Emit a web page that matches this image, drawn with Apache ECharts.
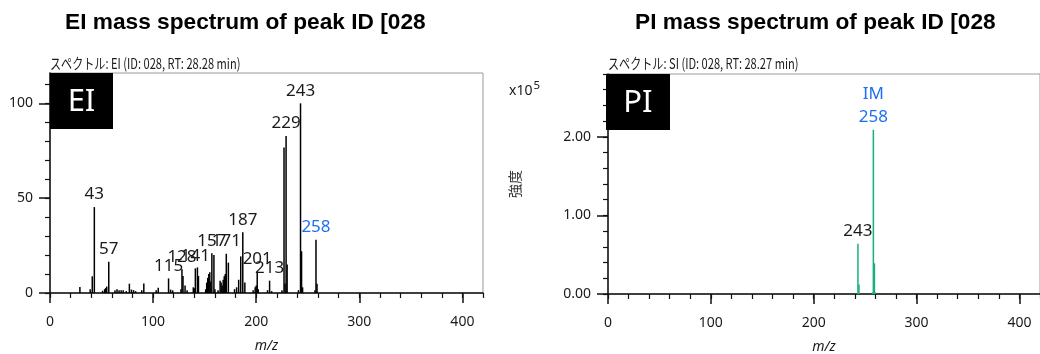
<!DOCTYPE html>
<html>
<head>
<meta charset="utf-8">
<script src="https://cdn.jsdelivr.net/npm/echarts@6.0.0/dist/echarts.min.js"></script>
<style>
  html, body { margin: 0; padding: 0; background: #fff; }
  #chart { width: 1040px; height: 354px; }
</style>
</head>
<body>
<div id="chart"></div>
<script>
// ---------------- DATA ----------------
// EI spectrum: m/z and relative intensity (%)
const EI_MZ  = [29, 39, 41, 43, 51, 53, 54, 55, 57, 63, 65, 67, 69, 71, 74, 77, 79, 81, 83, 89, 91,
                103, 105, 115, 117, 119, 127, 128, 129, 131, 133, 139, 140, 141, 143, 144,
                151, 152, 153, 154, 155, 156, 157, 159, 160, 163, 165, 166, 167, 168, 169, 170, 171, 173,
                179, 181, 183, 185, 187, 189, 197, 199, 200, 201, 202, 211, 213, 215,
                225, 227, 228, 229, 230, 241, 243, 244, 245, 257, 258, 259];
const EI_INT = [3.2, 2.0, 8.8, 45.3, 1.2, 2.0, 2.6, 3.4, 16.5, 1.5, 2.0, 1.5, 1.5, 1.5, 1.0, 4.9, 1.8, 1.5, 1.0, 1.5, 5.0,
                1.5, 2.8, 7.7, 1.8, 1.4, 2.0, 12.5, 9.0, 4.0, 1.5, 3.0, 2.5, 13.0, 13.5, 9.0,
                2.0, 5.5, 8.0, 10.0, 11.0, 6.0, 21.0, 20.0, 2.0, 1.5, 6.5, 5.5, 4.0, 7.0, 8.8, 10.0, 20.7, 16.0,
                2.0, 3.0, 7.0, 19.3, 32.0, 5.5, 1.5, 3.0, 4.0, 11.0, 2.0, 1.5, 6.5, 1.0,
                1.5, 76.7, 5.0, 82.8, 15.0, 1.5, 100.0, 22.0, 3.0, 1.5, 28.1, 4.9];
const EI_LABELS = [43, 57, 115, 128, 141, 157, 171, 187, 201, 213, 229, 243, 258];
const EI_BLUE   = [258];

// PI spectrum: m/z and intensity (x10^5)
const PI_MZ  = [243, 244, 257, 258, 259, 260];
const PI_INT = [0.64, 0.12, 0.02, 2.09, 0.39, 0.02];
const PI_LABELS = [243, 258];
const PI_BLUE   = [258];
const PI_BLUE_PREFIX = 'IM';

// Axis ticks / labels
const X_MAJOR = [0, 100, 200, 300, 400];
const X_MINOR = [0, 20, 40, 60, 80, 100, 120, 140, 160, 180, 200, 220, 240, 260, 280, 300, 320, 340, 360, 380, 400, 420];
const EI_Y_MAJOR = [0, 50, 100];
const EI_Y_MINOR = [0, 10, 20, 30, 40, 50, 60, 70, 80, 90, 100, 110];
const PI_Y_MAJOR = [0, 1, 2];
const PI_Y_MINOR = [0, 0.2, 0.4, 0.6, 0.8, 1.0, 1.2, 1.4, 1.6, 1.8, 2.0, 2.2, 2.4, 2.6, 2.8];

const TITLE_EI = 'EI mass spectrum of peak ID [028';
const TITLE_PI = 'PI mass spectrum of peak ID [028';
const SUB_EI = 'スペクトル: EI (ID: 028, RT: 28.28 min)';
const SUB_PI = 'スペクトル: SI (ID: 028, RT: 28.27 min)';
const X_NAME = 'm/z';
const Y_NAME_PI = '強度';
const SCALE_BASE = 'x10';
const SCALE_EXP = '5';

// ---------------- STYLE ----------------
const FONT = "'Noto Sans', 'Noto Sans CJK JP', sans-serif";
const BLUE = '#1f6ff2';
const GREEN = '#14b07c';
const INK = '#1a1a1a';

function makeSeriesData(mz, vals, labels, blue, blueFmt) {
  return mz.map((m, i) => {
    const item = { value: [m, vals[i]] };
    if (labels.indexOf(m) >= 0) {
      const isBlue = blue.indexOf(m) >= 0;
      item.label = {
        show: true,
        position: 'top',
        distance: 1,
        color: isBlue ? BLUE : INK,
        fontSize: 17,
        fontFamily: FONT,
        lineHeight: 23,
        formatter: isBlue && blueFmt ? (blueFmt + '\n' + m) : String(m)
      };
    }
    return item;
  });
}

function mainX(grid) {
  return {
    type: 'value', gridIndex: grid, min: 0, max: 420,
    axisLine: { show: true, lineStyle: { color: '#111', width: 1.5 } },
    axisTick: { show: true, customValues: X_MAJOR, length: 10, lineStyle: { color: '#111', width: 1.5 } },
    axisLabel: { customValues: X_MAJOR, fontSize: 14, color: INK, fontFamily: FONT, margin: 22 },
    splitLine: { show: false },
    name: X_NAME, nameLocation: 'middle', nameGap: 46,
    nameTextStyle: { fontStyle: 'italic', fontSize: 14, color: INK, fontFamily: FONT }
  };
}
function minorX(grid) {
  return {
    type: 'value', gridIndex: grid, min: 0, max: 420, interval: 20,
    axisLine: { show: false },
    axisTick: { show: true, customValues: X_MINOR, length: 5, lineStyle: { color: '#111', width: 1.2 } },
    axisLabel: { show: false },
    splitLine: { show: false }
  };
}
function mainY(grid, max, major, fmt, extra) {
  return Object.assign({
    type: 'value', gridIndex: grid, min: 0, max: max,
    axisLine: { show: true, lineStyle: { color: '#111', width: 1.5 } },
    axisTick: { show: true, customValues: major, length: 11, lineStyle: { color: '#111', width: 1.5 } },
    axisLabel: { customValues: major, fontSize: 14, color: INK, fontFamily: FONT, margin: 17, formatter: fmt },
    splitLine: { show: false }
  }, extra || {});
}
function minorY(grid, max, minor, interval) {
  return {
    type: 'value', gridIndex: grid, min: 0, max: max, interval: interval,
    axisLine: { show: false },
    axisTick: { show: true, customValues: minor, length: 5, lineStyle: { color: '#111', width: 1.2 } },
    axisLabel: { show: false },
    splitLine: { show: false }
  };
}

const chart = echarts.init(document.getElementById('chart'), null, { renderer: 'canvas' });

const TITLE_STYLE = { fontFamily: "'Liberation Sans', Arial, sans-serif", fontWeight: 'bold', fontSize: 22.7, color: '#000' };
const SUB_FONT = "14.5px 'Noto Sans CJK JP', sans-serif";
const GRID_BASE = { height: 220, outerBoundsMode: 'none', containLabel: false };

const option = {
  animation: false,
  backgroundColor: '#fff',
  title: [
    { text: TITLE_EI, left: 65, top: 11, padding: 0, textStyle: TITLE_STYLE },
    { text: TITLE_PI, left: 635, top: 11, padding: 0, textStyle: TITLE_STYLE },
    { text: '{a|' + SCALE_BASE + '}{b|' + SCALE_EXP + '}', left: 509, top: 80, padding: 0,
      textStyle: { fontWeight: 'normal', rich: {
        a: { fontSize: 14, fontFamily: FONT, fontWeight: 'normal', color: INK, verticalAlign: 'bottom', lineHeight: 18 },
        b: { fontSize: 11.5, fontFamily: FONT, fontWeight: 'normal', color: INK, verticalAlign: 'top', lineHeight: 12, padding: [0, 0, 8, 1] }
      } } }
  ],
  grid: [
    Object.assign({ left: 50, top: 73, width: 433, show: true, borderColor: '#9a9a9a', borderWidth: 1, backgroundColor: 'transparent' }, GRID_BASE),
    Object.assign({ left: 50, top: 73, width: 433, show: false }, GRID_BASE),
    Object.assign({ left: 608, top: 74, width: 432, show: true, borderColor: '#9a9a9a', borderWidth: 1, backgroundColor: 'transparent' }, GRID_BASE),
    Object.assign({ left: 608, top: 74, width: 432, show: false }, GRID_BASE)
  ],
  xAxis: [mainX(0), minorX(1), mainX(2), minorX(3)],
  yAxis: [
    mainY(0, 116, EI_Y_MAJOR, v => String(v)),
    minorY(1, 116, EI_Y_MINOR, 10),
    mainY(2, 2.8, PI_Y_MAJOR, v => v.toFixed(2), {
      name: Y_NAME_PI, nameLocation: 'middle', nameGap: 86,
      nameTextStyle: { fontSize: 14, color: '#333', fontFamily: "'Noto Sans CJK JP', sans-serif" }
    }),
    minorY(3, 2.8, PI_Y_MINOR, 0.2)
  ],
  series: [
    { type: 'bar', xAxisIndex: 0, yAxisIndex: 0, barWidth: 1.5, barGap: '-100%',
      itemStyle: { color: '#000' }, data: makeSeriesData(EI_MZ, EI_INT, EI_LABELS, EI_BLUE, null) },
    { type: 'bar', xAxisIndex: 2, yAxisIndex: 2, barWidth: 1.5, barGap: '-100%',
      itemStyle: { color: GREEN }, data: makeSeriesData(PI_MZ, PI_INT, PI_LABELS, PI_BLUE, PI_BLUE_PREFIX) }
  ],
  graphic: [
    { type: 'text', x: 50, y: 63, scaleX: 0.765, style: { text: SUB_EI, fill: INK, font: SUB_FONT, align: 'left', verticalAlign: 'middle' } },
    { type: 'text', x: 608, y: 63, scaleX: 0.765, style: { text: SUB_PI, fill: INK, font: SUB_FONT, align: 'left', verticalAlign: 'middle' } },
    { type: 'rect', left: 50, top: 73, z: 100, shape: { width: 63, height: 56 }, style: { fill: '#000' } },
    { type: 'text', x: 81.5, y: 102, z: 101, style: { text: 'EI', fill: '#fff', font: "31px 'Noto Sans', sans-serif", align: 'center', verticalAlign: 'middle' } },
    { type: 'rect', left: 606, top: 74, z: 100, shape: { width: 64, height: 56 }, style: { fill: '#000' } },
    { type: 'text', x: 638, y: 103, z: 101, style: { text: 'PI', fill: '#fff', font: "31px 'Noto Sans', sans-serif", align: 'center', verticalAlign: 'middle' } }
  ]
};
chart.setOption(option);
</script>
</body>
</html>
